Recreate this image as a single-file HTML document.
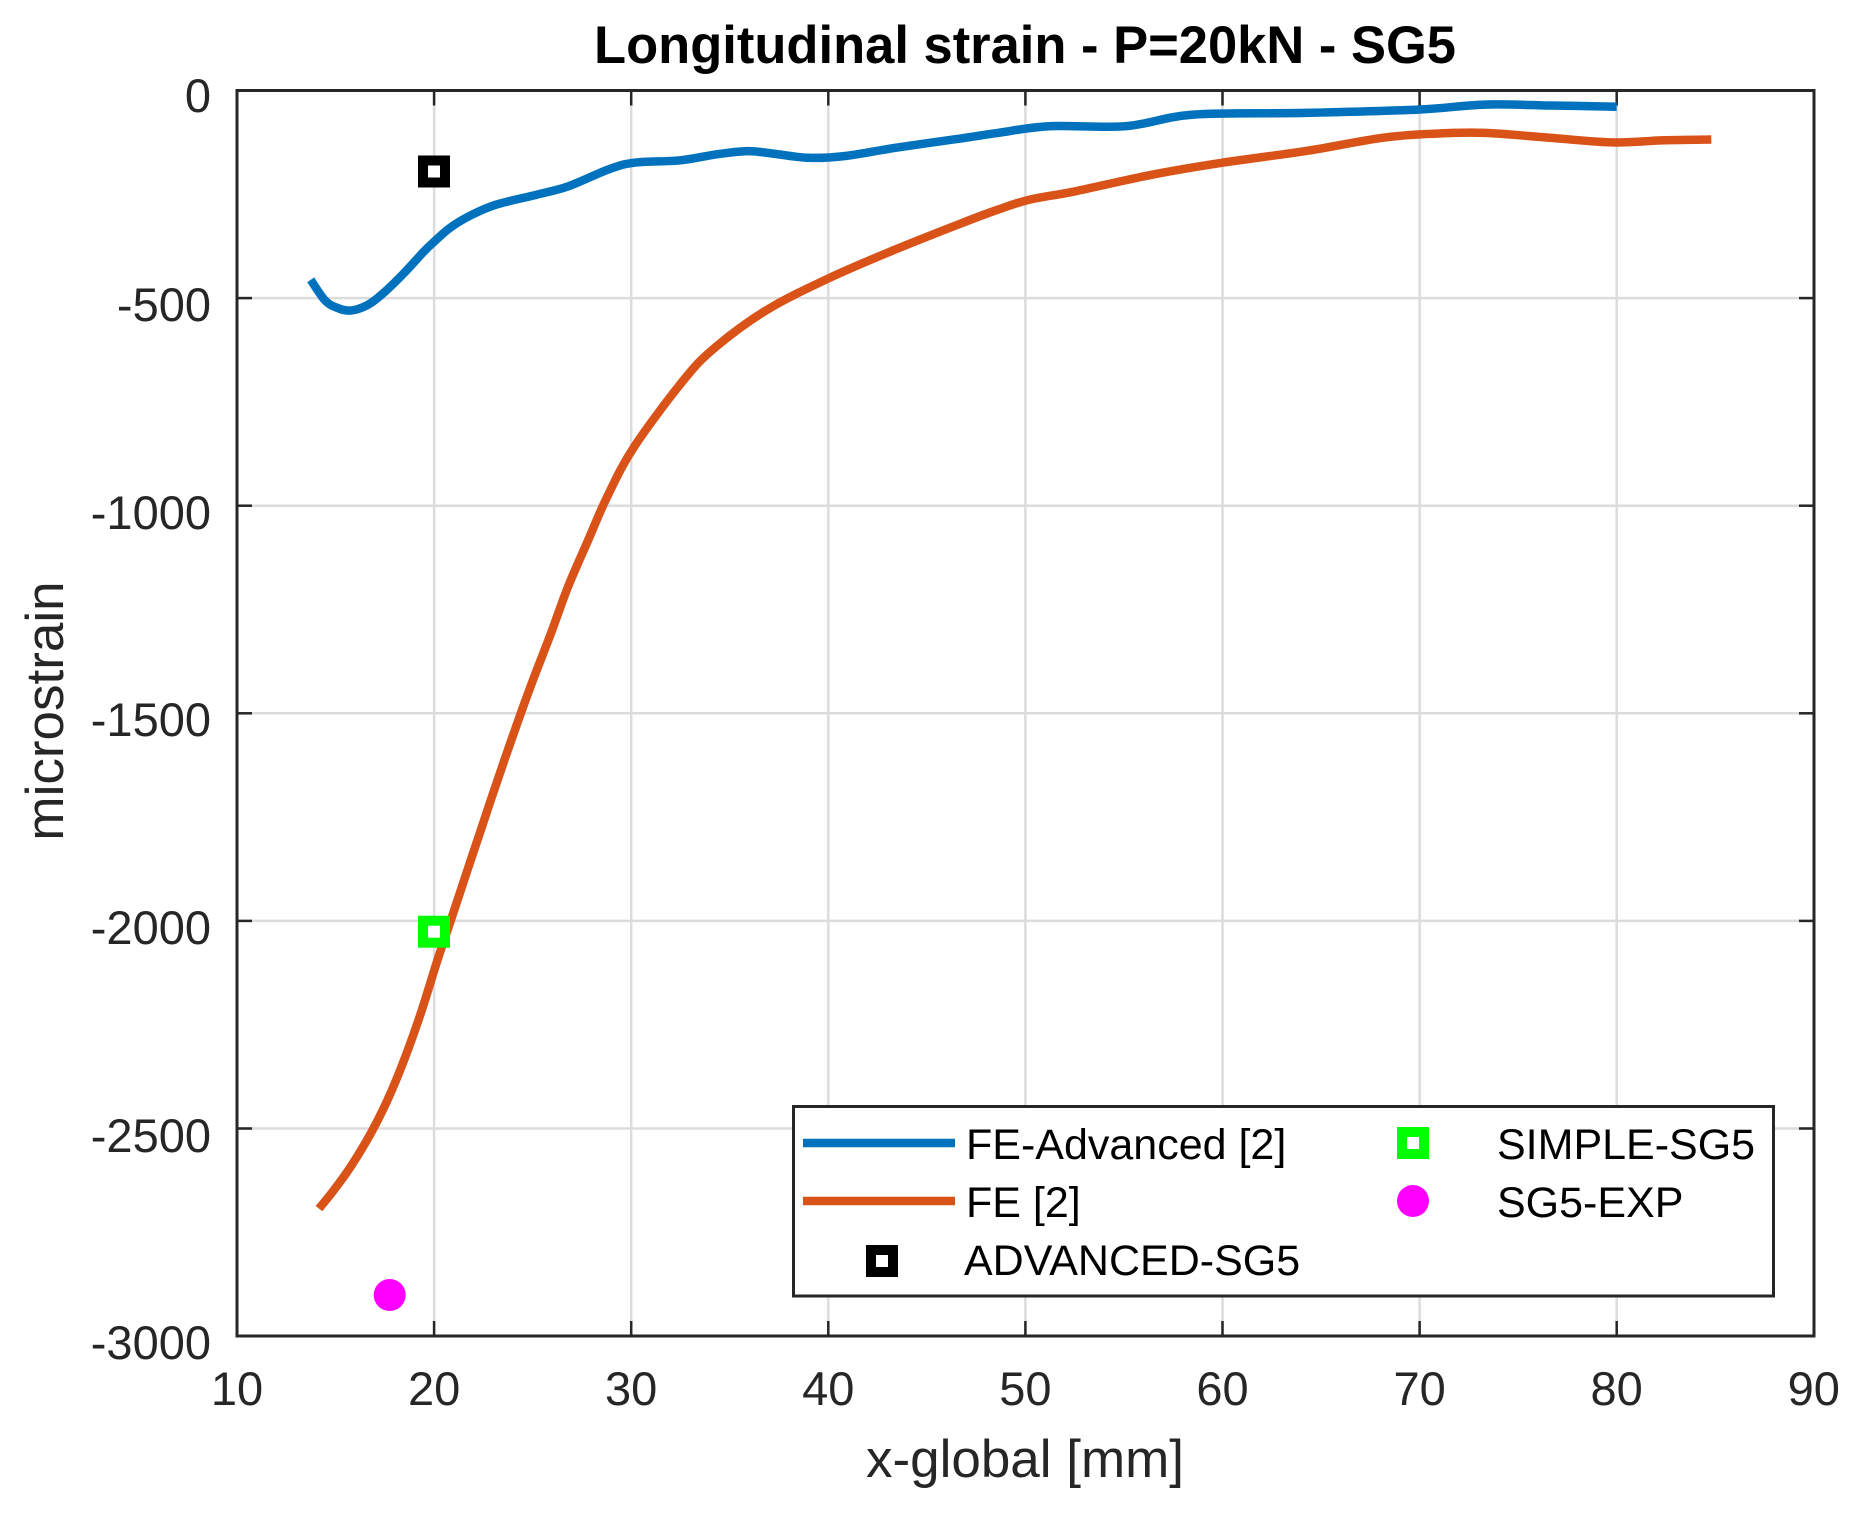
<!DOCTYPE html>
<html>
<head>
<meta charset="utf-8">
<style>
  html, body { margin: 0; padding: 0; background: #ffffff; }
  svg { display: block; }
  text { font-family: "Liberation Sans", Arial, sans-serif; }
</style>
</head>
<body>
<svg id="chart" width="1862" height="1513" viewBox="0 0 1862 1513" xmlns="http://www.w3.org/2000/svg">
  <rect x="0" y="0" width="1862" height="1513" fill="#ffffff"/>

  <!-- grid -->
  <g stroke="#dcdcdc" stroke-width="2.5">
    <line x1="434.1" y1="90.5" x2="434.1" y2="1336"/>
    <line x1="631.2" y1="90.5" x2="631.2" y2="1336"/>
    <line x1="828.3" y1="90.5" x2="828.3" y2="1336"/>
    <line x1="1025.4" y1="90.5" x2="1025.4" y2="1336"/>
    <line x1="1222.5" y1="90.5" x2="1222.5" y2="1336"/>
    <line x1="1419.6" y1="90.5" x2="1419.6" y2="1336"/>
    <line x1="1616.7" y1="90.5" x2="1616.7" y2="1336"/>
    <line x1="237" y1="298.1" x2="1814" y2="298.1"/>
    <line x1="237" y1="505.7" x2="1814" y2="505.7"/>
    <line x1="237" y1="713.3" x2="1814" y2="713.3"/>
    <line x1="237" y1="920.9" x2="1814" y2="920.9"/>
    <line x1="237" y1="1128.5" x2="1814" y2="1128.5"/>
  </g>

  <!-- ticks -->
  <g stroke="#262626" stroke-width="2.5">
    <line x1="434.1" y1="1336" x2="434.1" y2="1321"/>
    <line x1="631.2" y1="1336" x2="631.2" y2="1321"/>
    <line x1="828.3" y1="1336" x2="828.3" y2="1321"/>
    <line x1="1025.4" y1="1336" x2="1025.4" y2="1321"/>
    <line x1="1222.5" y1="1336" x2="1222.5" y2="1321"/>
    <line x1="1419.6" y1="1336" x2="1419.6" y2="1321"/>
    <line x1="1616.7" y1="1336" x2="1616.7" y2="1321"/>
    <line x1="434.1" y1="90.5" x2="434.1" y2="105.5"/>
    <line x1="631.2" y1="90.5" x2="631.2" y2="105.5"/>
    <line x1="828.3" y1="90.5" x2="828.3" y2="105.5"/>
    <line x1="1025.4" y1="90.5" x2="1025.4" y2="105.5"/>
    <line x1="1222.5" y1="90.5" x2="1222.5" y2="105.5"/>
    <line x1="1419.6" y1="90.5" x2="1419.6" y2="105.5"/>
    <line x1="1616.7" y1="90.5" x2="1616.7" y2="105.5"/>
    <line x1="237" y1="298.1" x2="252" y2="298.1"/>
    <line x1="237" y1="505.7" x2="252" y2="505.7"/>
    <line x1="237" y1="713.3" x2="252" y2="713.3"/>
    <line x1="237" y1="920.9" x2="252" y2="920.9"/>
    <line x1="237" y1="1128.5" x2="252" y2="1128.5"/>
    <line x1="1814" y1="298.1" x2="1799" y2="298.1"/>
    <line x1="1814" y1="505.7" x2="1799" y2="505.7"/>
    <line x1="1814" y1="713.3" x2="1799" y2="713.3"/>
    <line x1="1814" y1="920.9" x2="1799" y2="920.9"/>
    <line x1="1814" y1="1128.5" x2="1799" y2="1128.5"/>
  </g>

  <!-- FE-Advanced (blue) -->
  <polyline class="smooth" fill="none" stroke="#0072BD" stroke-width="8.5" stroke-linejoin="round" stroke-linecap="butt"
    points="310.7,279.8 324.5,299.8 335.6,307.2 350.1,310.6 368.1,304.7 383.4,293.1 403.9,273.2 424.2,251.2 434.7,241.2 449.9,227.9 470.4,215.5 496,204.7 536.6,194.7 568.1,186.4 608.7,169.4 634.4,162.7 680.5,160.3 716,154.4 747.5,151.1 773.1,153.6 808.6,157.8 844.1,156.1 895.3,147.8 956.4,139.1 997.8,132.9 1049.1,126.2 1125.9,126.2 1193,114.6 1305.3,112.9 1417.6,109.6 1484.6,104.6 1549.7,105.5 1616.7,106.7"/>

  <!-- FE (orange) -->
  <polyline class="smooth" fill="none" stroke="#D95319" stroke-width="8.5" stroke-linejoin="round" stroke-linecap="butt"
    points="319,1208.6 334,1189.9 350.7,1166.7 370.8,1133.3 387.4,1100.3 404.1,1060 420.7,1013.5 437.4,960.3 450.9,920.1 467.4,870.2 482.4,825.4 490.7,800.3 504.3,760.4 520.8,713.3 534.2,676.8 551,633.2 568.1,586.6 587.8,541.0 607.5,496.1 634.5,446.3 684.4,379.1 716,346.7 767.2,309.7 828.9,278.2 895.3,249.5 962.3,222.9 997.8,209.7 1029.3,199.7 1074.7,191.4 1151.5,174.8 1222.5,162.7 1305.3,151.1 1382.2,137.8 1433.4,133.7 1484.6,132.9 1549.7,137.8 1612.7,142.4 1664,140.3 1711.3,139.5"/>

  <!-- markers -->
  <rect x="423" y="160.5" width="22" height="22" fill="#ffffff" stroke="#000000" stroke-width="10"/>
  <rect x="423" y="920.7" width="22" height="22" fill="#ffffff" stroke="#00FF00" stroke-width="10"/>
  <circle cx="389.7" cy="1295" r="16" fill="#FF00FF"/>

  <!-- axes box -->
  <rect x="237" y="90.5" width="1577" height="1245.5" fill="none" stroke="#262626" stroke-width="3"/>

  <!-- legend -->
  <rect x="793.5" y="1106.5" width="980" height="189.5" fill="#ffffff" stroke="#262626" stroke-width="3"/>
  <line x1="803" y1="1143" x2="955" y2="1143" stroke="#0072BD" stroke-width="8.5"/>
  <line x1="803" y1="1201" x2="955" y2="1201" stroke="#D95319" stroke-width="8.5"/>
  <rect x="871" y="1250" width="22" height="22" fill="#ffffff" stroke="#000000" stroke-width="10"/>
  <rect x="1402" y="1132" width="22" height="22" fill="#ffffff" stroke="#00FF00" stroke-width="10"/>
  <circle cx="1413" cy="1201" r="16" fill="#FF00FF"/>
  <g font-size="43" fill="#000000">
    <text x="966" y="1159">FE-Advanced [2]</text>
    <text x="966" y="1217">FE [2]</text>
    <text x="964" y="1275">ADVANCED-SG5</text>
    <text x="1497" y="1159">SIMPLE-SG5</text>
    <text x="1497" y="1217">SG5-EXP</text>
  </g>

  <!-- x tick labels -->
  <g font-size="47" fill="#262626" text-anchor="middle">
    <text x="237" y="1405">10</text>
    <text x="434.1" y="1405">20</text>
    <text x="631.2" y="1405">30</text>
    <text x="828.3" y="1405">40</text>
    <text x="1025.4" y="1405">50</text>
    <text x="1222.5" y="1405">60</text>
    <text x="1419.6" y="1405">70</text>
    <text x="1616.7" y="1405">80</text>
    <text x="1813.8" y="1405">90</text>
  </g>

  <!-- y tick labels -->
  <g font-size="47" fill="#262626" text-anchor="end">
    <text x="211" y="112">0</text>
    <text x="211" y="321">-500</text>
    <text x="211" y="529">-1000</text>
    <text x="211" y="736">-1500</text>
    <text x="211" y="944">-2000</text>
    <text x="211" y="1152">-2500</text>
    <text x="211" y="1359">-3000</text>
  </g>

  <!-- title -->
  <text x="1025" y="63" font-size="53" font-weight="bold" fill="#000000" text-anchor="middle" textLength="862" lengthAdjust="spacingAndGlyphs">Longitudinal strain - P=20kN - SG5</text>

  <!-- axis labels -->
  <text x="1025" y="1477" font-size="53" fill="#262626" text-anchor="middle">x-global [mm]</text>
  <text x="0" y="0" font-size="53" fill="#262626" text-anchor="middle" transform="translate(63,711) rotate(-90)">microstrain</text>
</svg>
<script>
(function(){
  try {
    var NS = "http://www.w3.org/2000/svg";
    var lines = document.querySelectorAll("polyline.smooth");
    for (var k = 0; k < lines.length; k++) {
      var pl = lines[k];
      var raw = pl.getAttribute("points").trim().split(/\s+/);
      var p = raw.map(function(s){ var a = s.split(","); return [parseFloat(a[0]), parseFloat(a[1])]; });
      if (p.length < 3) continue;
      var d = "M" + p[0][0] + "," + p[0][1];
      for (var i = 0; i < p.length - 1; i++) {
        var p0 = p[i > 0 ? i - 1 : i], p1 = p[i], p2 = p[i + 1], p3 = p[i + 2 < p.length ? i + 2 : i + 1];
        var c1x = p1[0] + (p2[0] - p0[0]) / 6, c1y = p1[1] + (p2[1] - p0[1]) / 6;
        var c2x = p2[0] - (p3[0] - p1[0]) / 6, c2y = p2[1] - (p3[1] - p1[1]) / 6;
        d += " C" + c1x.toFixed(2) + "," + c1y.toFixed(2) + " " + c2x.toFixed(2) + "," + c2y.toFixed(2) + " " + p2[0] + "," + p2[1];
      }
      var path = document.createElementNS(NS, "path");
      path.setAttribute("d", d);
      path.setAttribute("fill", "none");
      path.setAttribute("stroke", pl.getAttribute("stroke"));
      path.setAttribute("stroke-width", pl.getAttribute("stroke-width"));
      path.setAttribute("stroke-linejoin", "round");
      path.setAttribute("stroke-linecap", "butt");
      pl.parentNode.replaceChild(path, pl);
    }
  } catch (e) {}
})();
</script>
</body>
</html>
